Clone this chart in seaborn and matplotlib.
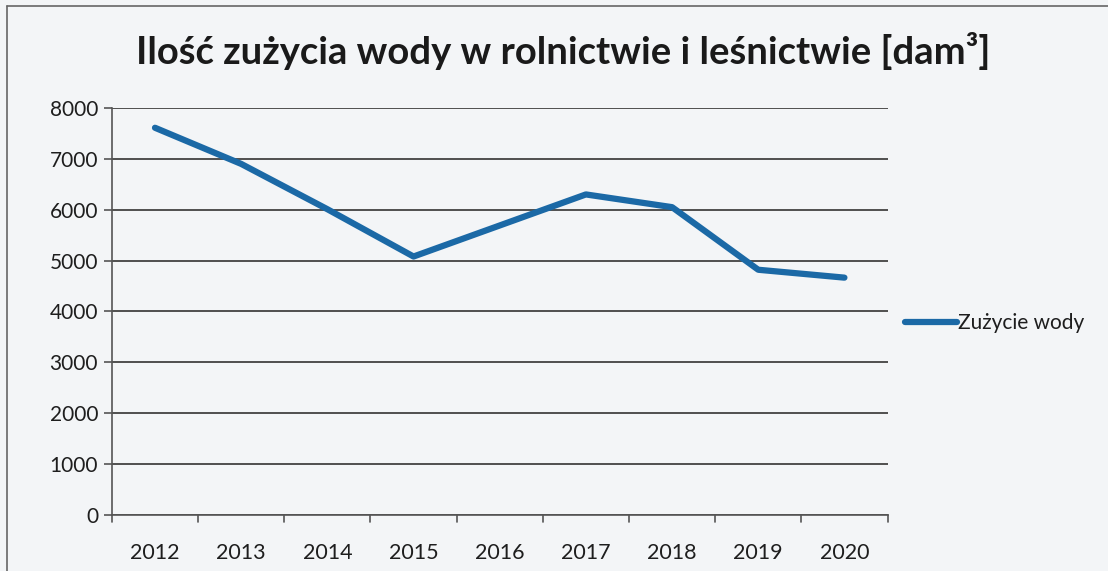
import pandas as pd
import matplotlib.pyplot as plt
import seaborn as sns
from matplotlib.lines import Line2D

# dane
lata = ['2012', '2013', '2014', '2015', '2016', '2017', '2018', '2019', '2020']
zuzycie = [7610, 6900, 6010, 5080, 5690, 6300, 6050, 4820, 4665]
y_ticks = [0, 1000, 2000, 3000, 4000, 5000, 6000, 7000, 8000]

df = pd.DataFrame({'Rok': lata, 'Zużycie wody': zuzycie})

sns.set_theme(style='white')
plt.rcParams['font.family'] = ['Lato', 'DejaVu Sans']

bg = '#f3f5f7'
fig = plt.figure(figsize=(11.08, 5.71), dpi=100, facecolor=bg)
ax = fig.add_axes([0.101, 0.098, 0.700, 0.713])
ax.set_facecolor(bg)

sns.lineplot(data=df, x='Rok', y='Zużycie wody', ax=ax, color='#1b69a6',
             linewidth=4.5, sort=False, label='Zużycie wody', legend=False)

ax.set_xlim(-0.5, len(lata) - 0.5)
ax.set_ylim(0, 8000)
ax.set_yticks(y_ticks)
ax.set_yticklabels([str(v) for v in y_ticks], fontsize=15, color='#1e1e1e')
ax.set_xticks(range(len(lata)))
ax.set_xticklabels(lata, fontsize=15.5, color='#1e1e1e')
ax.tick_params(axis='x', length=0, pad=20)
ax.tick_params(axis='y', length=6, width=1.2, color='#555555', pad=4, left=True)

# znaczniki na granicach kategorii
for b in range(len(lata) + 1):
    ax.plot([b - 0.5, b - 0.5], [0, -130], color='#555555', lw=1.2, clip_on=False)

ax.grid(axis='y', color='#333333', linewidth=1.2)
ax.set_axisbelow(True)
for s in ['top', 'right']:
    ax.spines[s].set_visible(False)
for s in ['left', 'bottom']:
    ax.spines[s].set_color('#555555')
    ax.spines[s].set_linewidth(1.2)
ax.set_xlabel('')
ax.set_ylabel('')

fig.text(0.508, 0.91, 'Ilość zużycia wody w rolnictwie i leśnictwie [dam³]',
         ha='center', va='center', fontsize=27.5, fontweight='bold', color='#1a1a1a')

handle = Line2D([], [], color='#1b69a6', linewidth=4.5)
fig.legend([handle], ['Zużycie wody'], loc='center left',
           bbox_to_anchor=(0.800, 0.434), frameon=False, fontsize=15,
           handlelength=2.5, handletextpad=0.05, labelcolor='#1e1e1e')

# ramka obszaru wykresu
fig.add_artist(Line2D([0.006, 0.006], [0, 0.99], color='#666666', lw=1.2))
fig.add_artist(Line2D([0.006, 1.0], [0.99, 0.99], color='#666666', lw=1.2))

fig.savefig('out.png', dpi=100, facecolor=bg)
